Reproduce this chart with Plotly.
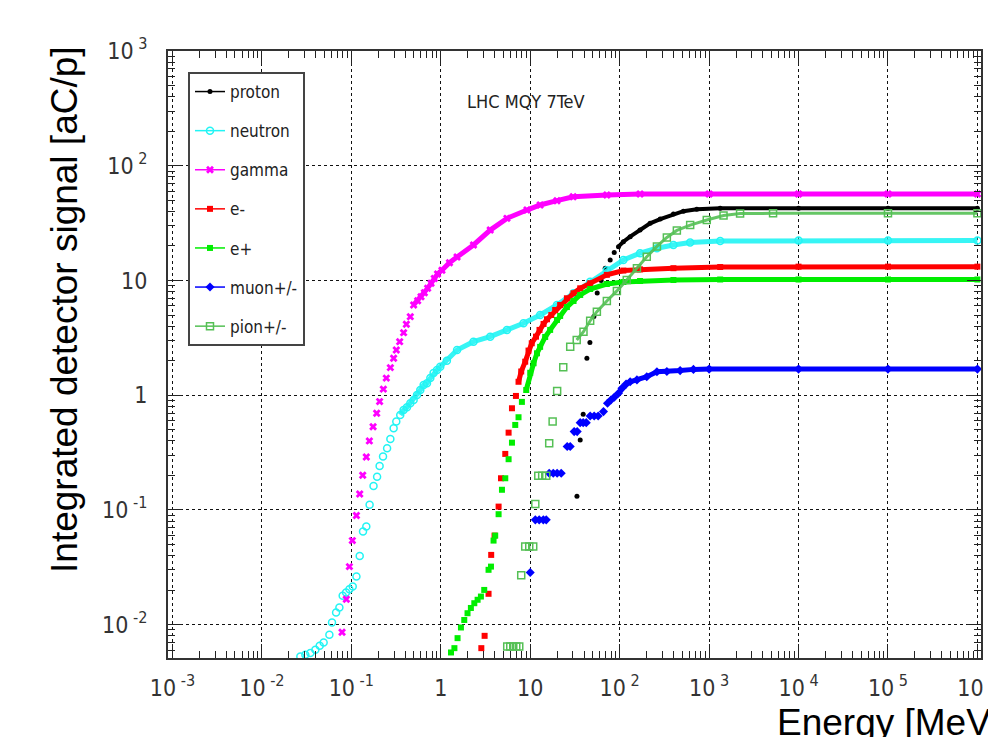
import plotly.graph_objects as go

# Integrated detector signal per primary, LHC MQY at 7 TeV.
# Energies in MeV, signal in aC per proton.

PROTON_E = [33.3, 36.2, 39.1, 43.0, 46.5, 51.5, 56.1, 62.1, 68.9, 78.3, 86.9, 97.0, 110, 131,
            169, 219, 284, 399, 516, 729, 1330, 1e4, 1e5, 1e6]
PROTON_V = [0.132, 0.408, 0.684, 2.10, 2.88, 4.86, 7.78, 10.0, 12.8, 15.1, 17.5, 19.7, 21.8, 24.1,
            27.5, 31.5, 34.3, 37.9, 40.2, 41.7, 42.6, 42.6, 42.6, 42.6]

NEUTRON_E = [0.0269, 0.0306, 0.0348, 0.0396, 0.0443, 0.0490, 0.0568, 0.0608, 0.0675, 0.0735,
             0.0800, 0.0873, 0.0951, 0.1036, 0.114, 0.124, 0.135, 0.147, 0.160, 0.177, 0.194,
             0.207, 0.226, 0.251, 0.273, 0.297, 0.318, 0.352, 0.384, 0.419, 0.456, 0.497, 0.542,
             0.590, 0.643, 0.701, 0.764, 0.831, 0.908, 0.986, 1.17, 1.52, 2.32, 3.57, 5.49, 8.41,
             12.9, 19.9, 30.5, 46.8, 71.9, 110, 169, 261, 399, 614, 1330, 1e4, 1e5, 1e6]
NEUTRON_V = [0.00528, 0.00547, 0.00566, 0.00604, 0.00655, 0.00700, 0.00817, 0.01045, 0.01277,
             0.0141, 0.0179, 0.0191, 0.0204, 0.0215, 0.0263, 0.0398, 0.0648, 0.0717, 0.111, 0.162,
             0.195, 0.242, 0.292, 0.345, 0.416, 0.516, 0.589, 0.673, 0.745, 0.786, 0.852, 0.910,
             1.006, 1.11, 1.23, 1.27, 1.41, 1.56, 1.66, 1.77, 2.00, 2.48, 2.93, 3.24, 3.71, 4.24,
             5.01, 6.12, 7.74, 9.77, 12.3, 15.1, 17.3, 19.1, 20.4, 21.4, 22.1, 22.3, 22.3, 22.3]

GAMMA_E = [0.0787, 0.0879, 0.0951, 0.1026, 0.114, 0.124, 0.134, 0.147, 0.159, 0.175, 0.192,
           0.207, 0.228, 0.246, 0.273, 0.297, 0.318, 0.347, 0.384, 0.412, 0.456, 0.497, 0.551,
           0.601, 0.655, 0.713, 0.778, 0.846, 0.920, 1.03, 1.25, 1.52, 2.32, 3.57, 5.49, 9.19,
           12.9, 19.9, 30.2, 71.9, 169, 1e3, 1e4, 1e5, 1e6]
GAMMA_V = [0.0086, 0.0167, 0.0321, 0.0541, 0.0894, 0.138, 0.201, 0.290, 0.400, 0.532, 0.697,
           0.880, 1.13, 1.41, 1.74, 2.10, 2.48, 2.93, 3.51, 4.15, 4.84, 6.12, 6.67, 7.22, 7.83,
           8.55, 9.45, 10.4, 11.4, 12.3, 14.3, 16.0, 20.4, 27.5, 34.8, 41.1, 45.5, 49.6, 53.7,
           55.6, 56.7, 56.7, 56.7, 56.7, 56.7]

EMINUS_E = [2.84, 3.09, 3.42, 3.66, 3.99, 4.43, 4.71, 5.26, 5.73, 6.25, 6.92, 7.40, 7.93, 8.79,
            9.57, 10.4, 11.6, 12.7, 14.1, 15.4, 17.2, 19.0, 21.6, 25.7, 30.5, 36.2, 46.8, 71.9,
            110, 169, 399, 1330, 1e4, 1e5, 1e6]
EMINUS_V = [0.00625, 0.0080, 0.0186, 0.0406, 0.0598, 0.107, 0.189, 0.308, 0.472, 0.770, 0.986,
            1.31, 1.61, 1.96, 2.45, 2.84, 3.24, 3.71, 4.18, 4.59, 5.00, 5.53, 6.12, 7.00, 7.74,
            8.55, 9.45, 11.2, 12.2, 12.5, 12.8, 13.1, 13.2, 13.2, 13.2]

EPLUS_E = [1.30, 1.42, 1.54, 1.68, 1.83, 1.99, 2.17, 2.37, 2.58, 2.81, 3.06, 3.42, 3.64, 3.89,
           4.06, 4.43, 4.83, 5.26, 5.73, 6.25, 6.80, 7.40, 8.07, 9.02, 10.0, 10.9, 11.9, 12.9,
           14.7, 16.7, 19.9, 21.6, 25.7, 30.5, 36.2, 46.8, 71.9, 110, 169, 399, 1330, 1e4, 1e5,
           1e6]
EPLUS_V = [0.00573, 0.00625, 0.00764, 0.00946, 0.0110, 0.0126, 0.0140, 0.0154, 0.0165, 0.0176,
           0.0201, 0.0301, 0.0321, 0.0541, 0.0598, 0.0919, 0.150, 0.189, 0.277, 0.386, 0.551,
           0.643, 0.875, 1.11, 1.57, 1.90, 2.32, 2.64, 3.22, 3.71, 4.53, 4.91, 5.87, 6.63, 7.48,
           8.43, 9.32, 9.70, 9.90, 10.1, 10.2, 10.2, 10.2, 10.2]

MUON_E = [10.0, 11.4, 12.6, 14.0, 15.1, 16.3, 18.1, 20.0, 22.2, 25.9, 28.0, 31.0, 33.5, 36.2,
          39.1, 42.3, 46.8, 51.9, 57.5, 65.9, 73.1, 79.8, 86.9, 97.0, 106, 118, 131, 156, 201,
          261, 337, 474, 668, 1e3, 1e4, 1e5, 1e6]
MUON_V = [0.0285, 0.082, 0.082, 0.082, 0.082, 0.209, 0.209, 0.209, 0.209, 0.357, 0.357, 0.482,
          0.482, 0.577, 0.577, 0.577, 0.660, 0.660, 0.660, 0.720, 0.851, 0.910, 0.961, 1.04,
          1.15, 1.25, 1.31, 1.36, 1.45, 1.60, 1.61, 1.64, 1.68, 1.69, 1.69, 1.69, 1.69]

PION_E = [5.53, 5.98, 6.46, 6.98, 7.54, 7.93, 8.79, 9.75, 10.8, 11.4, 12.3, 13.6, 15.1, 16.3,
          17.8, 20.0, 23.4, 28.0, 33.1, 39.4, 46.8, 55.6, 71.9, 93.1, 120, 156, 201, 261, 337,
          436, 614, 942, 1450, 2220, 5190, 1e5, 1e6]
PION_V = [0.00646, 0.00646, 0.00646, 0.00646, 0.00646, 0.0270, 0.048, 0.048, 0.048, 0.113,
          0.199, 0.199, 0.199, 0.382, 0.589, 1.09, 1.75, 2.65, 3.03, 3.58, 4.46, 5.35, 6.63,
          8.11, 10.1, 12.8, 16.1, 19.8, 23.7, 27.3, 30.4, 33.7, 36.8, 38.3, 38.5, 38.5, 38.5]

SPECIES = ["proton", "neutron", "gamma", "e-", "e+", "muon+/-", "pion+/-"]
SERIES = {
    "proton": (PROTON_E, PROTON_V),
    "neutron": (NEUTRON_E, NEUTRON_V),
    "gamma": (GAMMA_E, GAMMA_V),
    "e-": (EMINUS_E, EMINUS_V),
    "e+": (EPLUS_E, EPLUS_V),
    "muon+/-": (MUON_E, MUON_V),
    "pion+/-": (PION_E, PION_V),
}

X_TICKVALS = [1e-3, 1e-2, 1e-1, 1, 10, 1e2, 1e3, 1e4, 1e5, 1e6]
X_TICKTEXT = ["10<sup> -3</sup>", "10<sup> -2</sup>", "10<sup> -1</sup>", "1", "10",
              "10<sup> 2</sup>", "10<sup> 3</sup>", "10<sup> 4</sup>", "10<sup> 5</sup>",
              "10<sup> 6</sup>"]
Y_TICKVALS = [1e-2, 1e-1, 1, 10, 1e2, 1e3]
Y_TICKTEXT = ["10<sup> -2</sup>", "10<sup> -1</sup>", "1", "10", "10<sup> 2</sup>",
              "10<sup> 3</sup>"]

# marker look per species; band_from = energy where bins sit close enough to merge into a band
STYLE = {
    "proton": dict(color="#000000", symbol="circle", size=5, open=False, band_from=97, band=4),
    "neutron": dict(color="#22f4f4", symbol="circle-open", size=7, open=True, band_from=0.35, band=5),
    "gamma": dict(color="#ff00ff", symbol="x", size=7, open=False, band_from=0.49, band=5),
    "e-": dict(color="#ff0000", symbol="square", size=6, open=False, band_from=7.4, band=5),
    "e+": dict(color="#00ee00", symbol="square", size=6, open=False, band_from=9.0, band=5),
    "muon+/-": dict(color="#0000ff", symbol="diamond", size=7, open=False, band_from=97, band=5),
    "pion+/-": dict(color="#55c055", symbol="square-open", size=7, open=True, band_from=33, band=3),
}

NARROW = "Liberation Sans Narrow, DejaVu Sans Condensed, Arial Narrow, sans-serif"

fig = go.Figure()

for name in SPECIES:
    E, V = SERIES[name]
    st = STYLE[name]
    marker = dict(color=st["color"], symbol=st["symbol"], size=st["size"],
                  line=dict(color=st["color"], width=1.5 if st["open"] else 0))
    band_x = [e for e in E if e >= st["band_from"]]
    band_y = [v for e, v in zip(E, V) if e >= st["band_from"]]
    fig.add_trace(go.Scatter(x=band_x, y=band_y, mode="lines",
                             line=dict(color=st["color"], width=st["band"]),
                             opacity=0.9 if st["open"] else 1.0,
                             showlegend=False, hoverinfo="skip"))
    fig.add_trace(go.Scatter(x=E, y=V, mode="markers", marker=marker, name=name,
                             showlegend=False))
    # legend entry: short line with the species marker
    fig.add_trace(go.Scatter(x=[None], y=[None], mode="lines+markers", name=name,
                             legendgroup=name, marker=marker,
                             line=dict(color=st["color"], width=1.5)))

axis_common = dict(
    type="log",
    showline=True, linecolor="#333333", linewidth=2, mirror="allticks",
    ticks="inside", ticklen=14, tickwidth=1, tickcolor="#222222",
    minor=dict(ticks="inside", ticklen=7, tickwidth=1, tickcolor="#222222", dtick="D1",
               showgrid=False),
    showgrid=True, gridcolor="#111111", gridwidth=1, griddash="dot",
    zeroline=False,
    automargin=False,
    ticklabeloverflow="allow",
    tickfont=dict(family=NARROW, size=23, color="#333333"),
)

fig.update_xaxes(**axis_common, range=[-3.05, 6.04], tickmode="array",
                 tickvals=X_TICKVALS, ticktext=X_TICKTEXT, ticklabelstandoff=8)
fig.update_yaxes(**axis_common, range=[-2.29, 3.0], tickmode="array",
                 tickvals=Y_TICKVALS, ticktext=Y_TICKTEXT, ticklabelstandoff=14)

fig.update_layout(
    width=988, height=737, autosize=False,
    margin=dict(l=168, r=7, t=51, b=79),
    paper_bgcolor="white", plot_bgcolor="white",
    showlegend=True,
    legend=dict(x=0.0246, y=0.9654, xanchor="left", yanchor="top",
                bgcolor="white", bordercolor="#444444", borderwidth=2,
                font=dict(family=NARROW, size=17, color="#222222"),
                traceorder="grouped", tracegroupgap=14, itemwidth=30),
    annotations=[
        dict(text="LHC MQY 7TeV", x=0.44, y=0.9176, xref="paper", yref="paper",
             showarrow=False, xanchor="center", yanchor="middle",
             font=dict(family=NARROW, size=18, color="#222222")),
        dict(text="Integrated detector signal [aC/p]", x=-0.1267, y=0.575,
             xref="paper", yref="paper", showarrow=False, textangle=-90,
             xanchor="center", yanchor="middle",
             font=dict(family="Liberation Sans, Arial, sans-serif", size=37, color="black")),
        dict(text="Energy [MeV]", x=0.7466, y=-0.07, xref="paper", yref="paper",
             showarrow=False, xanchor="left", yanchor="top",
             font=dict(family="Liberation Sans, Arial, sans-serif", size=37, color="black")),
    ],
)

fig.write_html("out.html")
